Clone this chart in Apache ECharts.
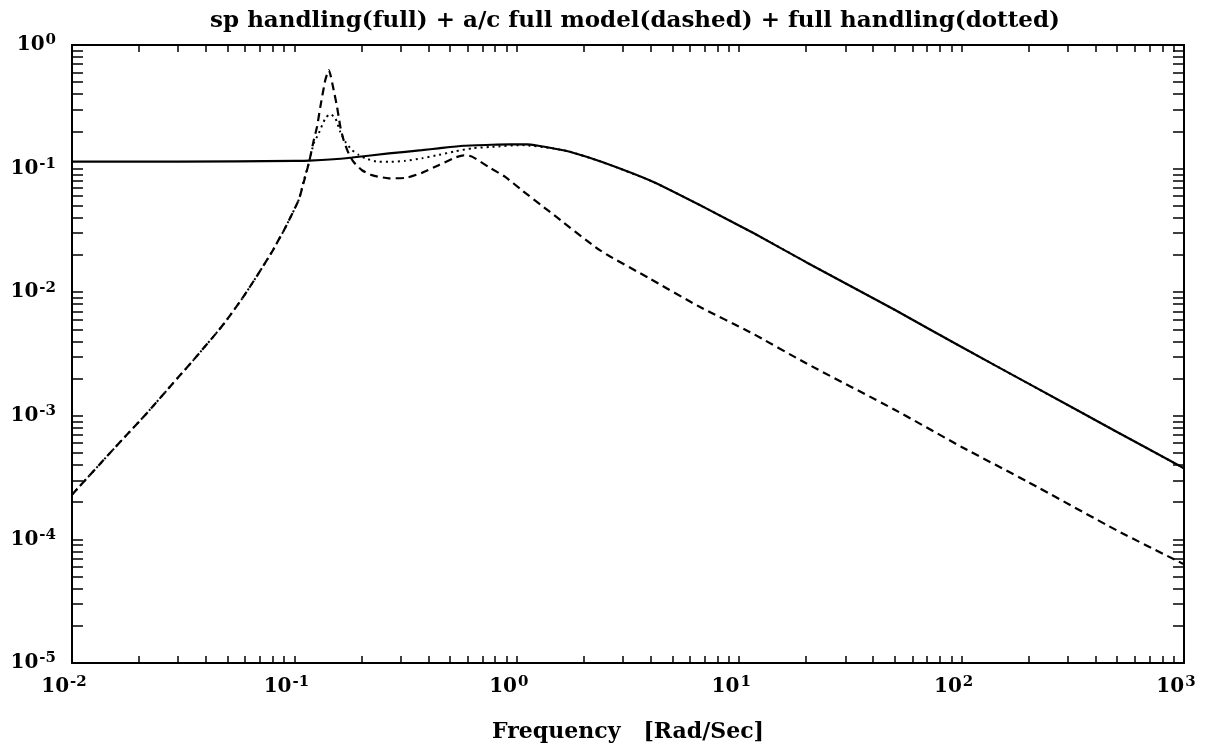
<!DOCTYPE html>
<html>
<head>
<meta charset="utf-8">
<script src="https://cdn.jsdelivr.net/npm/echarts@6/dist/echarts.min.js"></script>
<style>
  html, body { margin: 0; padding: 0; background: #fff; }
  #chart { width: 1206px; height: 752px; }
</style>
</head>
<body>
<div id="chart"></div>
<script>
// Frequency response magnitudes, frequency in rad/sec.
// sp handling (solid)
const solidFreq = [0.01, 0.03, 0.1, 0.1167, 0.15, 0.1816, 0.266, 0.374, 0.445, 0.577, 0.773, 0.935, 1.11, 1.25, 1.45, 1.73, 2.42, 4.09, 6.9, 11.7, 20, 50, 100, 200, 500, 1000];
const solidMag  = [0.114, 0.114, 0.1155, 0.116, 0.119, 0.123, 0.1326, 0.141, 0.146, 0.153, 0.156, 0.157, 0.157, 0.153, 0.146, 0.137, 0.113, 0.0783, 0.049, 0.0298, 0.0175, 0.0072, 0.0036, 0.00182, 0.00074, 0.000376];

// a/c full model (dashed)
const dashFreq = [0.01, 0.0157, 0.0217, 0.0282, 0.035, 0.0472, 0.058, 0.069, 0.08, 0.0849, 0.09, 0.1045, 0.11, 0.1167, 0.1222, 0.1264, 0.1308, 0.1377, 0.1427, 0.1502, 0.1555, 0.1609, 0.1665, 0.1754, 0.1847, 0.2014, 0.2233, 0.266, 0.3154, 0.374, 0.4454, 0.529, 0.577, 0.629, 0.747, 0.887, 1.054, 1.41, 2.37, 3.97, 6.67, 11.19, 20, 50, 100, 200, 500, 1000];
const dashMag  = [2.3e-4, 5.6e-4, 1.05e-3, 1.8e-3, 2.8e-3, 5.3e-3, 8.8e-3, 0.0142, 0.0218, 0.0265, 0.032, 0.0557, 0.077, 0.115, 0.170, 0.218, 0.316, 0.52, 0.627, 0.432, 0.316, 0.218, 0.170, 0.1325, 0.113, 0.097, 0.0885, 0.0835, 0.0841, 0.0923, 0.1066, 0.123, 0.128, 0.125, 0.103, 0.0857, 0.0668, 0.0446, 0.0218, 0.01286, 0.00758, 0.00475, 0.00266, 0.00112, 5.6e-4, 2.9e-4, 1.18e-4, 6.3e-5];

// full handling (dotted)
const dotFreq = [0.01, 0.0157, 0.0217, 0.0282, 0.035, 0.0472, 0.058, 0.069, 0.08, 0.0849, 0.09, 0.1045, 0.11, 0.1167, 0.1222, 0.1285, 0.1377, 0.145, 0.1528, 0.1609, 0.1694, 0.1816, 0.1945, 0.2083, 0.2392, 0.266, 0.315, 0.374, 0.445, 0.529, 0.629, 0.773, 1.054, 1.45, 1.73, 2.42, 4.09, 6.9, 11.7, 20, 50, 100, 200, 500, 1000];
const dotMag  = [2.3e-4, 5.6e-4, 1.05e-3, 1.8e-3, 2.8e-3, 5.3e-3, 8.8e-3, 0.0142, 0.0218, 0.0265, 0.032, 0.0557, 0.079, 0.115, 0.160, 0.192, 0.255, 0.276, 0.255, 0.198, 0.165, 0.141, 0.129, 0.121, 0.1135, 0.1135, 0.1155, 0.121, 0.129, 0.138, 0.146, 0.150, 0.155, 0.146, 0.137, 0.113, 0.0783, 0.049, 0.0298, 0.0175, 0.0072, 0.0036, 0.00182, 0.00074, 0.000376];

// Axis decades and the in-decade tick multipliers
const xDecades = [0.01, 0.1, 1, 10, 100, 1000];
const yDecades = [1e-5, 1e-4, 1e-3, 1e-2, 1e-1, 1];
const tickSteps = [1, 2, 3, 4, 5, 6, 7, 8, 9];

const titleText = 'sp handling(full) + a/c full model(dashed) + full handling(dotted)';
const xName = 'Frequency   [Rad/Sec]';

const FONT = 'DejaVu Serif';
const INK = '#000';

function ticksFor(decades) {
  const out = [];
  for (let i = 0; i < decades.length; i++) {
    if (i === decades.length - 1) { out.push(decades[i]); break; }
    tickSteps.forEach(m => out.push(+(decades[i] * m).toPrecision(6)));
  }
  return out;
}
const zip = (a, b) => a.map((v, i) => [v, b[i]]);

const powLabel = v => {
  const e = Math.round(Math.log10(v));
  return '{b|10}{s|' + e + '}';
};
const richLabel = {
  b: { fontFamily: FONT, fontSize: 20, fontWeight: 'bold', color: INK, lineHeight: 24 },
  s: { fontFamily: FONT, fontSize: 15, fontWeight: 'bold', color: INK, lineHeight: 24, verticalAlign: 'top', padding: [0, 0, 8, 1] }
};

function xAxisDef(pos, show) {
  return {
    type: 'log', logBase: 10, min: 0.01, max: 1000, position: pos,
    axisLine: { show: true, lineStyle: { color: INK, width: 2 } },
    axisTick: { show: true, inside: true, length: 7, lineStyle: { color: INK, width: 1.5 }, customValues: ticksFor(xDecades) },
    minorTick: { show: false },
    splitLine: { show: false },
    axisLabel: show ? {
      show: true, customValues: xDecades, formatter: powLabel, rich: richLabel,
      margin: 12, align: 'center', padding: [0, 16, 0, 0], showMinLabel: true, showMaxLabel: true
    } : { show: false },
    name: show ? xName : '', nameLocation: 'middle', nameGap: 58,
    nameTextStyle: { fontFamily: FONT, fontSize: 22, fontWeight: 'bold', color: INK }
  };
}
function yAxisDef(pos, show) {
  return {
    type: 'log', logBase: 10, min: 1e-5, max: 1, position: pos,
    axisLine: { show: true, lineStyle: { color: INK, width: 2 } },
    axisTick: { show: true, inside: true, length: 11, lineStyle: { color: INK, width: 1.5 }, customValues: ticksFor(yDecades) },
    minorTick: { show: false },
    splitLine: { show: false },
    axisLabel: show ? {
      show: true, customValues: yDecades, formatter: powLabel, rich: richLabel,
      margin: 16, showMinLabel: true, showMaxLabel: true
    } : { show: false }
  };
}

const chart = echarts.init(document.getElementById('chart'), null, { renderer: 'canvas' });
chart.setOption({
  animation: false,
  backgroundColor: '#fff',
  title: {
    text: titleText, left: 630, top: 5, textAlign: 'center',
    textStyle: { fontFamily: FONT, fontSize: 23, fontWeight: 'bold', color: INK }
  },
  grid: { left: 72, right: 22, top: 45, bottom: 89, containLabel: false, outerBoundsMode: 'none' },
  xAxis: [xAxisDef('bottom', true), xAxisDef('top', false)],
  yAxis: [yAxisDef('left', true), yAxisDef('right', false)],
  series: [
    {
      name: 'full handling', type: 'line', data: zip(dotFreq, dotMag), showSymbol: false, smooth: 0.2,
      lineStyle: { color: INK, width: 2, type: [2, 4] }
    },
    {
      name: 'a/c full model', type: 'line', data: zip(dashFreq, dashMag), showSymbol: false, smooth: 0.2,
      lineStyle: { color: INK, width: 2.2, type: [8, 5] }
    },
    {
      name: 'sp handling', type: 'line', data: zip(solidFreq, solidMag), showSymbol: false, smooth: 0.2,
      lineStyle: { color: INK, width: 2.2 }
    }
  ]
});
</script>
</body>
</html>
